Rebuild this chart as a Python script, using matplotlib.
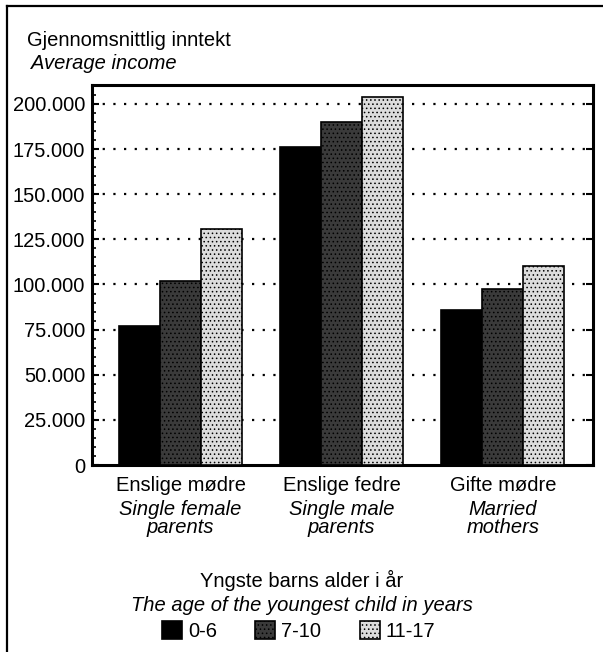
import matplotlib
matplotlib.use("Agg")
import matplotlib.pyplot as plt
from matplotlib.patches import Patch
from matplotlib.lines import Line2D
from matplotlib.ticker import FuncFormatter, MultipleLocator

plt.rcParams['font.family'] = ['Liberation Sans', 'DejaVu Sans']
plt.rcParams['hatch.linewidth'] = 0.6

# data
groups_no = ['Enslige mødre', 'Enslige fedre', 'Gifte mødre']
groups_en = ['Single female\nparents', 'Single male\nparents', 'Married\nmothers']
age_groups = ['0-6', '7-10', '11-17']
income_0_6 = [77000, 176000, 86000]
income_7_10 = [102000, 190000, 97500]
income_11_17 = [130500, 204000, 110500]
yticks = [0, 25000, 50000, 75000, 100000, 125000, 150000, 175000, 200000]

series = [income_0_6, income_7_10, income_11_17]
styles = [
    dict(facecolor='black', hatch=None),
    dict(facecolor='#3a3a3a', hatch='....'),
    dict(facecolor='#dcdcdc', hatch='....'),
]

fig = plt.figure(figsize=(6.03, 6.52), dpi=100)
ax = fig.add_axes([0.1526, 0.2868, 0.8308, 0.5828])

width = 0.255
x = list(range(len(groups_no)))
for k, vals in enumerate(series):
    pos = [xi + (k - 1) * width for xi in x]
    ax.bar(pos, vals, width=width, edgecolor='black', linewidth=1.2,
           zorder=3, **styles[k])

ax.set_xlim(-0.55, 2.56)
ax.set_ylim(0, 210500)
ax.set_yticks(yticks)
ax.yaxis.set_minor_locator(MultipleLocator(5000))
ax.yaxis.set_major_formatter(FuncFormatter(lambda v, p: f"{int(v):,}".replace(',', '.')))
ax.tick_params(axis='y', which='major', direction='in', length=5, width=1.5,
               labelsize=14.5, pad=5, right=True)
ax.tick_params(axis='y', which='minor', direction='in', length=3, width=1.2)
ax.tick_params(axis='x', length=0, labelsize=14.5, pad=8)

for v in yticks[1:]:
    ax.axhline(v, color='black', linewidth=1.6, linestyle=(0, (1, 3.8)), zorder=1)

for s in ax.spines.values():
    s.set_linewidth(2.2)

ax.set_xticks(x)
ax.set_xticklabels(groups_no)
for xi, lab in zip(x, groups_en):
    ax.annotate(lab, xy=(xi, 0), xycoords=('data', 'axes fraction'),
                xytext=(0, -25), textcoords='offset points',
                ha='center', va='top', fontsize=14.5, style='italic',
                linespacing=0.95)

# axis title
fig.text(27 / 603, 1 - 46 / 652, 'Gjennomsnittlig inntekt', fontsize=14.5,
         va='baseline')
fig.text(31 / 603, 1 - 69 / 652, 'Average income', fontsize=14.5,
         style='italic', va='baseline')

# legend
fig.text(0.5, 1 - 587 / 652, 'Yngste barns alder i år', fontsize=14.5,
         ha='center', va='baseline')
fig.text(0.5, 1 - 611 / 652, 'The age of the youngest child in years',
         fontsize=14.5, style='italic', ha='center', va='baseline')
handles = [Patch(edgecolor='black', linewidth=1.2, **styles[k])
           for k in range(3)]
fig.legend(handles, age_groups, loc='center', bbox_to_anchor=(0.495, 1 - 631 / 652),
           ncol=3, frameon=False, fontsize=14.5, handlelength=1.0,
           handleheight=1.0, handletextpad=0.3, columnspacing=1.9,
           borderpad=0)

# frame around the whole figure (top and left edges visible)
fig.add_artist(Line2D([7 / 603, 7 / 603], [0, 1 - 6 / 652], color='black',
                      linewidth=1.6, transform=fig.transFigure))
fig.add_artist(Line2D([7 / 603, 1], [1 - 6 / 652, 1 - 6 / 652], color='black',
                      linewidth=1.6, transform=fig.transFigure))

fig.savefig('out.png', dpi=100)
